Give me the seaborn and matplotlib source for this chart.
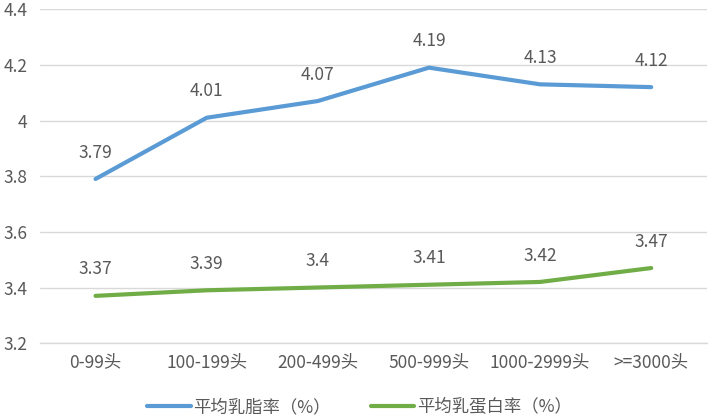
import matplotlib
matplotlib.use("Agg")
import matplotlib.pyplot as plt
import seaborn as sns
import pandas as pd
from matplotlib.lines import Line2D

categories = ["0-99头", "100-199头", "200-499头", "500-999头", "1000-2999头", ">=3000头"]
fat = [3.79, 4.01, 4.07, 4.19, 4.13, 4.12]
protein = [3.37, 3.39, 3.40, 3.41, 3.42, 3.47]
fat_labels = ["3.79", "4.01", "4.07", "4.19", "4.13", "4.12"]
protein_labels = ["3.37", "3.39", "3.4", "3.41", "3.42", "3.47"]
series_names = ["平均乳脂率（%）", "平均乳蛋白率（%）"]
colors = ["#5B9BD5", "#70AD47"]

sns.set_theme(style="white")
plt.rcParams['font.family'] = ['Noto Sans CJK SC', 'DejaVu Sans']

df = pd.DataFrame({
    "x": list(range(len(categories))) * 2,
    "value": fat + protein,
    "series": [series_names[0]] * len(fat) + [series_names[1]] * len(protein),
})

fig = plt.figure(figsize=(7.19, 4.18), dpi=100)
ax = fig.add_axes([0.0556, 0.179, 0.9274, 0.799])
sns.lineplot(data=df, x="x", y="value", hue="series", palette=colors,
             linewidth=3, ax=ax, legend=False, solid_capstyle="round")

txt = "#595959"
fs = 12.5
for i, (v, l) in enumerate(zip(fat, fat_labels)):
    ax.annotate(l, (i, v), xytext=(0, 19), textcoords="offset points",
                ha="center", va="center", fontsize=fs, color=txt)
for i, (v, l) in enumerate(zip(protein, protein_labels)):
    ax.annotate(l, (i, v), xytext=(0, 19), textcoords="offset points",
                ha="center", va="center", fontsize=fs, color=txt)

ax.set_xlim(-0.5, len(categories) - 0.5)
ax.set_ylim(3.2, 4.4)
ax.set_yticks([3.2, 3.4, 3.6, 3.8, 4.0, 4.2, 4.4])
ax.set_yticklabels(["3.2", "3.4", "3.6", "3.8", "4", "4.2", "4.4"])
ax.set_xticks(range(len(categories)))
ax.set_xticklabels(categories)
ax.tick_params(axis="both", length=0, labelsize=fs, labelcolor=txt)
ax.tick_params(axis="x", pad=7)
ax.tick_params(axis="y", pad=9)
ax.set_xlabel("")
ax.set_ylabel("")
ax.grid(axis="y", color="#D9D9D9", linewidth=1)
ax.set_axisbelow(True)
for s in ["top", "right", "left"]:
    ax.spines[s].set_visible(False)
ax.spines["bottom"].set_color("#D9D9D9")
ax.spines["bottom"].set_linewidth(1)

handles = [Line2D([0], [0], color=c, lw=3, solid_capstyle="round") for c in colors]
fig.legend(handles, series_names, loc="center", bbox_to_anchor=(0.5, 0.026),
           ncol=2, frameon=False, fontsize=fs, labelcolor=txt,
           handlelength=2.5, handletextpad=0.15, columnspacing=2.3)

fig.savefig("out.png", dpi=100)
